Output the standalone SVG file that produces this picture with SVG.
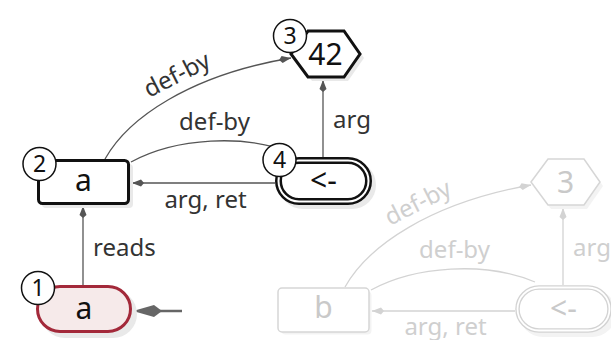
<svg xmlns="http://www.w3.org/2000/svg" width="611" height="340" viewBox="0 0 611 340">
  <style>
    text { font-family: "Noto Sans", "Open Sans", sans-serif; }
    .lbl { font-size: 24px; fill: #333; }
    .nlbl { font-size: 30px; fill: #111; text-anchor: middle; }
    .badge circle { fill: #fff; stroke: #111; stroke-width: 1.5; }
    .badge text { font-size: 23px; fill: #111; text-anchor: middle; }
    .edge { fill: none; stroke: #555; stroke-width: 1.3; }
    .shadow { fill: #e9e9e9; }
    .node { fill: #fff; stroke: #111; stroke-width: 3; }
    .ghost .edge { stroke: #d3d3d3; }
    .ghost .lbl { fill: #cfcfcf; }
    .ghost .nlbl { fill: #c9c9c9; }
    .ghost .node { stroke: #d6d6d6; stroke-width: 1.5; }
    .ghost .shadow { fill: #f3f3f3; }
  </style>
  <defs>
    <marker id="tip" viewBox="-12 -4 12 8" refX="0" refY="0" markerWidth="12" markerHeight="8" markerUnits="userSpaceOnUse" orient="auto">
      <path d="M0,0 L-9,-3.5 L-12,0 L-9,3.5 z" fill="#555"/>
    </marker>
    <marker id="tipGhost" viewBox="-12 -4 12 8" refX="0" refY="0" markerWidth="12" markerHeight="8" markerUnits="userSpaceOnUse" orient="auto">
      <path d="M0,0 L-9,-3.5 L-12,0 L-9,3.5 z" fill="#d3d3d3"/>
    </marker>
  </defs>

  <!-- second graph, greyed out -->
  <g class="ghost">
    <g id="ghost-edges">
      <path class="edge" d="M345,287 C368,246 430,203 531,185" marker-end="url(#tipGhost)"/>
      <path class="edge" d="M371,290 C415,266 485,261 535,282"/>
      <path class="edge" d="M515,311 L372,311" marker-end="url(#tipGhost)"/>
      <path class="edge" d="M563,285 L563,208" marker-end="url(#tipGhost)"/>
      <text class="lbl" transform="rotate(-27 390 226)" x="390" y="226">def-by</text>
      <text class="lbl" x="454.5" y="258" text-anchor="middle">def-by</text>
      <text class="lbl" x="445.5" y="335" text-anchor="middle">arg, ret</text>
      <text class="lbl" x="573" y="256">arg</text>
    </g>
    <g id="ghost-b">
      <rect class="shadow" x="281.5" y="291.5" width="90" height="43" rx="4"/>
      <rect class="node" x="278" y="288" width="91" height="44" rx="4"/>
      <text class="nlbl" x="323.5" y="318">b</text>
    </g>
    <g id="ghost-3">
      <polygon class="shadow" points="534,186 551,163 587,163 603,186 587,209 551,209"/>
      <polygon class="node" points="531,182 548,159 584,159 600,182 584,205 548,205"/>
      <text class="nlbl" x="565.5" y="193">3</text>
    </g>
    <g id="ghost-assign">
      <rect class="shadow" x="519" y="289" width="97" height="48" rx="24"/>
      <rect x="517.5" y="287.5" width="92" height="43" rx="21.5" fill="#fff" stroke="#d3d3d3" stroke-width="4.5"/>
      <rect x="517.5" y="287.5" width="92" height="43" rx="21.5" fill="none" stroke="#fff" stroke-width="1.8"/>
      <text class="nlbl" x="563.5" y="319">&lt;-</text>
    </g>
  </g>

  <!-- connectors of the main graph -->
  <g id="edges">
    <path class="edge" d="M105,159 C128,118 190,75 291,58" marker-end="url(#tip)"/>
    <path class="edge" d="M131,162 C175,138 245,133 295,154" marker-end="url(#tip)"/>
    <path class="edge" d="M275,183 L132,183" marker-end="url(#tip)"/>
    <path class="edge" d="M323,157 L323,80" marker-end="url(#tip)"/>
    <path class="edge" d="M83,285 L83,206" marker-end="url(#tip)"/>
    <!-- entry arrow -->
    <path d="M182,311 L158,311" fill="none" stroke="#666" stroke-width="2.5"/>
    <path d="M133,311 L154,305 L162,311 L154,317 z" fill="#666"/>
    <text class="lbl" transform="rotate(-27 149 98)" x="149" y="98">def-by</text>
    <text class="lbl" x="214.5" y="130" text-anchor="middle">def-by</text>
    <text class="lbl" x="205.5" y="208" text-anchor="middle">arg, ret</text>
    <text class="lbl" x="333" y="128">arg</text>
    <text class="lbl" x="93" y="256">reads</text>
  </g>

  <!-- node 2: variable a -->
  <g id="node2">
    <rect class="shadow" x="42" y="164" width="91" height="44" rx="4"/>
    <rect class="node" x="38.5" y="160.5" width="90" height="43" rx="4"/>
    <text class="nlbl" x="83.5" y="191">a</text>
  </g>

  <!-- node 3: literal 42 -->
  <g id="node3">
    <polygon class="shadow" points="295,58 312,35 348,35 364,58 348,81 312,81"/>
    <polygon class="node" points="291,54 308,31 344,31 360,54 344,77 308,77"/>
    <text class="nlbl" x="325.5" y="65">42</text>
  </g>

  <!-- node 4: assignment -->
  <g id="node4">
    <rect class="shadow" x="279" y="161" width="97" height="48" rx="24"/>
    <rect x="278.5" y="160.5" width="90" height="41" rx="20.5" fill="#fff" stroke="#111" stroke-width="7"/>
    <rect x="278.5" y="160.5" width="90" height="41" rx="20.5" fill="none" stroke="#fff" stroke-width="2"/>
    <text class="nlbl" x="323.5" y="191">&lt;-</text>
  </g>

  <!-- node 1: entry read of a -->
  <g id="node1">
    <rect class="shadow" x="41" y="290" width="96" height="48" rx="24"/>
    <rect x="37.5" y="286.5" width="93" height="45" rx="22.5" fill="#f6eaea" stroke="#a3293a" stroke-width="3"/>
    <text class="nlbl" x="84" y="319">a</text>
  </g>

  <!-- step badges -->
  <g id="badge1" class="badge"><circle cx="38" cy="288" r="16.5"/><text x="38" y="296">1</text></g>
  <g id="badge2" class="badge"><circle cx="39.5" cy="164" r="16.5"/><text x="39.5" y="172">2</text></g>
  <g id="badge3" class="badge"><circle cx="290" cy="36" r="16.5"/><text x="290" y="44">3</text></g>
  <g id="badge4" class="badge"><circle cx="279.5" cy="160" r="16.5"/><text x="279.5" y="168">4</text></g>
</svg>
